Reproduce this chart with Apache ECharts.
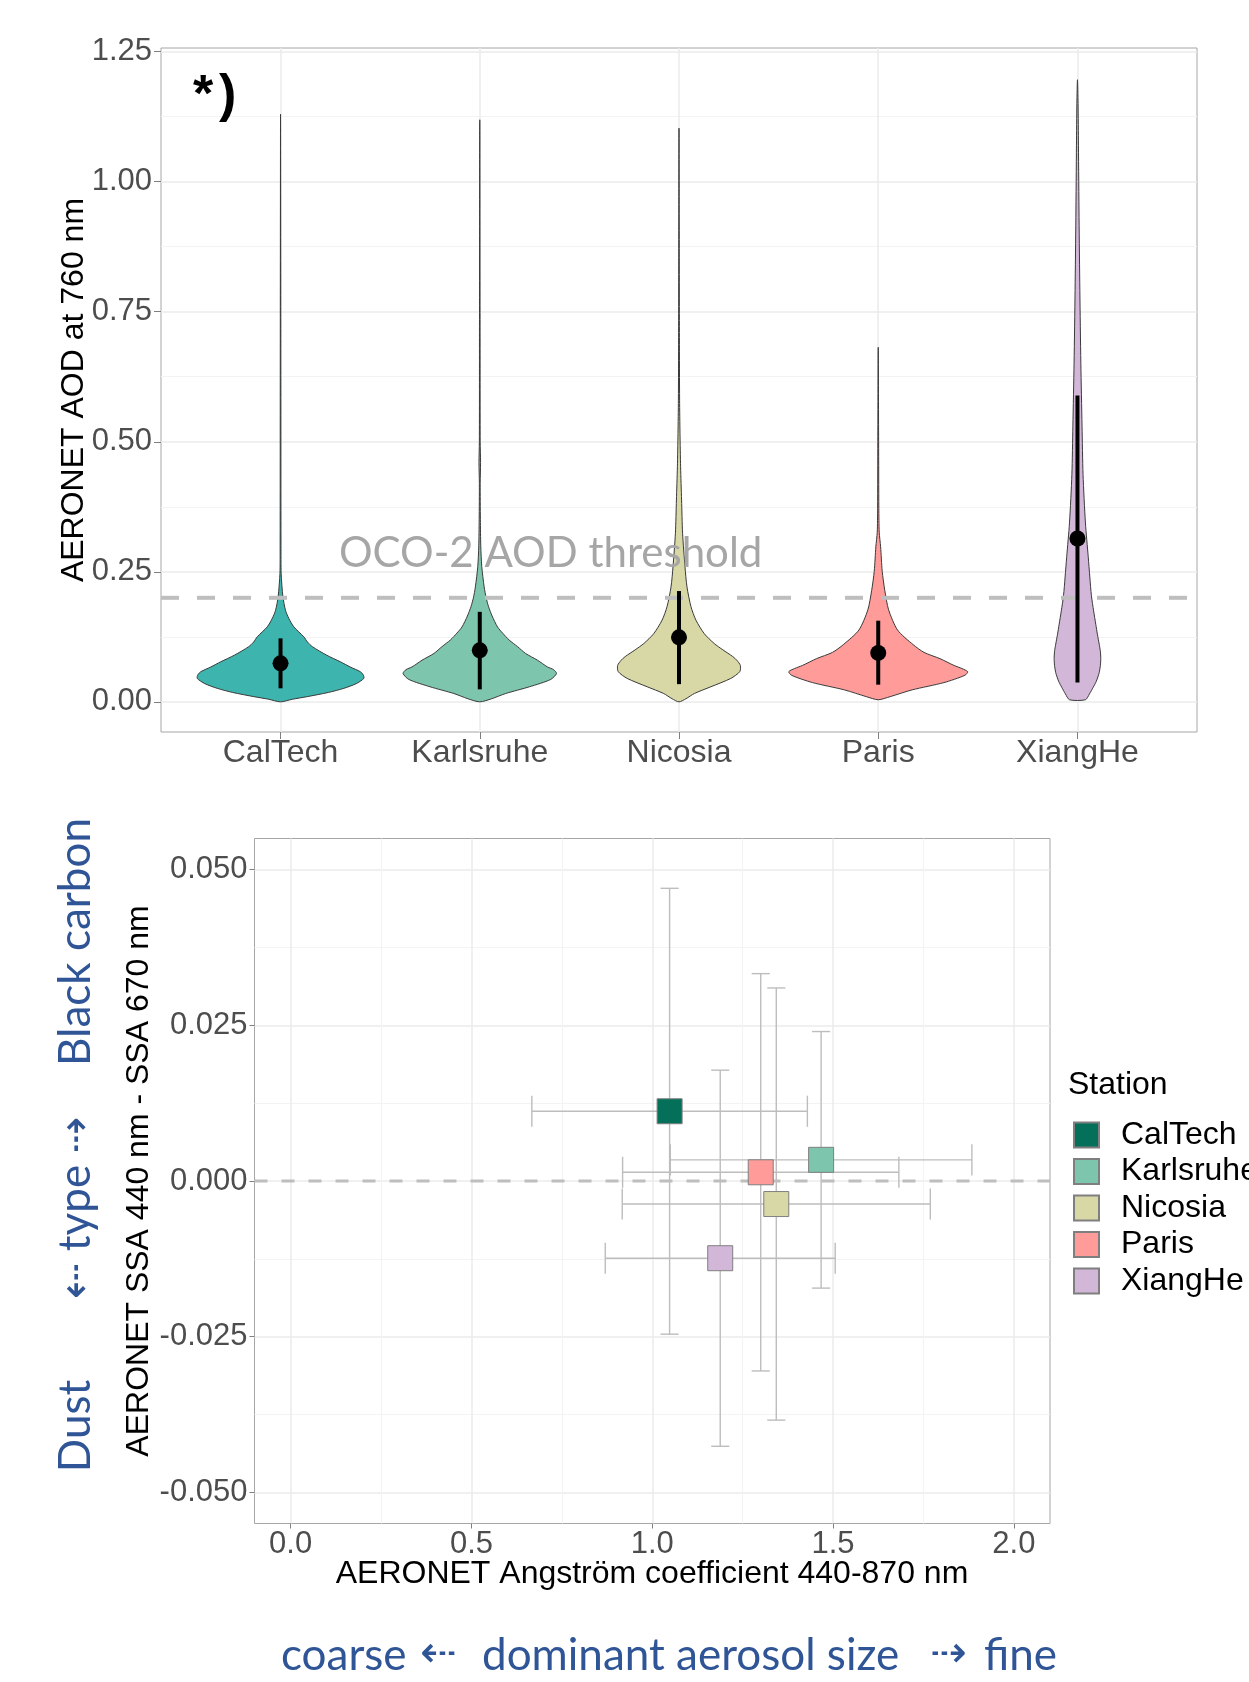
<!DOCTYPE html>
<html><head><meta charset="utf-8">
<script src="https://cdn.jsdelivr.net/npm/echarts@6/dist/echarts.min.js"></script>
<style>html,body{margin:0;padding:0;background:#fff}#c{width:1249px;height:1682px}</style>
</head><body><div id="c"></div>
<script>
// ---------------- data ----------------
const stations = ['CalTech', 'Karlsruhe', 'Nicosia', 'Paris', 'XiangHe'];
const violinColors = ['#3DB5AE', '#7DC6AD', '#D8D7A6', '#FF9B98', '#D3B7D9'];
const stationColors = ['#05705A', '#7DC6AD', '#D8D7A6', '#FF9B98', '#D3B7D9'];

// violin outlines: [AOD at 760 nm, half width (category units)]
const violinCalTech = [[0.000,0],[0.005,0.06],[0.010,0.134],[0.018,0.24],[0.026,0.318],[0.035,0.38],[0.045,0.418],[0.052,0.415],[0.058,0.40],[0.067,0.35],[0.077,0.30],[0.090,0.23],[0.106,0.16],[0.115,0.135],[0.125,0.117],[0.144,0.067],[0.160,0.042],[0.176,0.025],[0.202,0.012],[0.247,0.003],[0.30,0.002],[0.60,0.0015],[1.130,0]];
const violinKarlsruhe = [[0.000,0],[0.006,0.06],[0.016,0.13],[0.029,0.25],[0.043,0.356],[0.0545,0.385],[0.062,0.37],[0.067,0.34],[0.080,0.29],[0.093,0.23],[0.106,0.19],[0.119,0.147],[0.132,0.115],[0.144,0.089],[0.165,0.062],[0.183,0.044],[0.200,0.032],[0.221,0.022],[0.260,0.010],[0.300,0.005],[0.350,0.003],[0.420,0.002],[0.460,0.004],[0.500,0.002],[0.700,0.0015],[1.119,0]];
const violinNicosia = [[0.000,0],[0.006,0.035],[0.016,0.077],[0.029,0.16],[0.045,0.26],[0.058,0.305],[0.070,0.308],[0.080,0.29],[0.087,0.27],[0.100,0.22],[0.112,0.177],[0.131,0.127],[0.157,0.085],[0.183,0.060],[0.221,0.040],[0.260,0.030],[0.324,0.018],[0.388,0.013],[0.452,0.008],[0.516,0.005],[0.580,0.003],[0.700,0.002],[1.103,0]];
const violinParis = [[0.004,0],[0.010,0.06],[0.023,0.17],[0.037,0.33],[0.051,0.435],[0.058,0.449],[0.064,0.42],[0.070,0.38],[0.083,0.31],[0.095,0.23],[0.110,0.175],[0.138,0.097],[0.177,0.052],[0.214,0.033],[0.251,0.020],[0.298,0.012],[0.326,0.005],[0.372,0.003],[0.500,0.002],[0.6815,0]];
const violinXiangHe = [[0.004,0.040],[0.015,0.06],[0.028,0.079],[0.040,0.095],[0.056,0.109],[0.070,0.115],[0.083,0.117],[0.097,0.115],[0.111,0.109],[0.130,0.100],[0.149,0.092],[0.175,0.081],[0.204,0.070],[0.240,0.062],[0.279,0.054],[0.344,0.040],[0.437,0.028],[0.530,0.023],[0.651,0.017],[0.791,0.012],[0.931,0.008],[1.070,0.005],[1.150,0.003],[1.196,0]];
const violins = [violinCalTech, violinKarlsruhe, violinNicosia, violinParis, violinXiangHe];

// point ranges on violins
const aodMid = [0.074, 0.099, 0.124, 0.094, 0.314];
const aodLow = [0.026, 0.024, 0.034, 0.033, 0.037];
const aodHigh = [0.122, 0.173, 0.213, 0.156, 0.589];
const aodThreshold = 0.2;
const aodTicks = [0, 0.25, 0.5, 0.75, 1, 1.25];
const aodMinorTicks = [0.125, 0.375, 0.625, 0.875, 1.125];
const stationTicks = [1, 2, 3, 4, 5];

// scatter with error bars
const angMean = [1.048, 1.467, 1.343, 1.300, 1.188];
const angSd = [0.381, 0.417, 0.426, 0.382, 0.318];
const ssaMean = [0.0112, 0.0034, -0.0037, 0.0014, -0.0124];
const ssaSd = [0.0358, 0.0206, 0.0347, 0.0319, 0.0302];
const angTicks = [0, 0.5, 1, 1.5, 2];
const angMinorTicks = [0.25, 0.75, 1.25, 1.75];
const ssaTicks = [-0.05, -0.025, 0, 0.025, 0.05];
const ssaMinorTicks = [-0.0375, -0.0125, 0.0125, 0.0375];

// axis limits
const topX = [0.4, 5.6], topY = [-0.058, 1.257];
const botX = [-0.1, 2.1], botY = [-0.055, 0.055];

// ---------------- chart ----------------
const FONT = 'Liberation Sans';
const BLUE = '#2F5597';
const chart = echarts.init(document.getElementById('c'), null, {renderer: 'canvas'});

const tickColor = '#7F7F7F';
function mainAxis(grid, lim, ticks, fmt, margin, tickLen, fontSize) {
  return {
    type: 'value', gridIndex: grid, min: lim[0], max: lim[1],
    axisLine: {show: false, onZero: false},
    axisTick: {show: true, customValues: ticks, length: tickLen, lineStyle: {color: tickColor, width: 1}},
    axisLabel: {customValues: ticks, formatter: fmt, fontSize: fontSize, color: '#4D4D4D', fontFamily: FONT, margin: margin},
    splitLine: {show: true, lineStyle: {color: '#EBEBEB', width: 1.5}}
  };
}
function minorAxis(grid, lim, ticks) {
  return {
    type: 'value', gridIndex: grid, min: lim[0], max: lim[1],
    axisLine: {show: false, onZero: false}, axisTick: {show: false, customValues: ticks},
    axisLabel: {show: false, customValues: ticks},
    splitLine: {show: true, lineStyle: {color: '#F3F3F3', width: 1}}
  };
}

const option = {
  backgroundColor: '#ffffff',
  animation: false,
  grid: [
    {left: 161, top: 48, width: 1036, height: 684, show: true, borderColor: '#A6A6A6', borderWidth: 1, backgroundColor: 'transparent', outerBoundsMode: 'none'},
    {left: 254.5, top: 838.5, width: 795.5, height: 685, show: true, borderColor: '#A6A6A6', borderWidth: 1, backgroundColor: 'transparent', outerBoundsMode: 'none'}
  ],
  xAxis: [
    mainAxis(0, topX, stationTicks, v => stations[Math.round(v) - 1], 5, 7, 32),
    mainAxis(1, botX, angTicks, v => v.toFixed(1), 5, 5, 31),
    minorAxis(1, botX, angMinorTicks)
  ],
  yAxis: [
    mainAxis(0, topY, aodTicks, v => v.toFixed(2), 9, 7, 31),
    minorAxis(0, topY, aodMinorTicks),
    mainAxis(1, botY, ssaTicks, v => v.toFixed(3), 7, 5, 31),
    minorAxis(1, botY, ssaMinorTicks)
  ],
  legend: {
    data: stations, orient: 'vertical', left: 1073, top: 1119, padding: 0,
    itemWidth: 25, itemHeight: 25, itemGap: 4.5, icon: 'rect', selectedMode: false,
    textStyle: {fontSize: 32, color: '#000', fontFamily: FONT, padding: [0, 0, 0, 17], lineHeight: 25, height: 25}
  },
  series: [
    {
      type: 'custom', name: 'violin', xAxisIndex: 0, yAxisIndex: 0, z: 2,
      data: stations.map((s, i) => [i + 1, 0]),
      renderItem: function (params, api) {
        const i = params.dataIndex;
        const prof = violins[i];
        const cx = api.value(0);
        const pts = [];
        for (let k = 0; k < prof.length; k++) pts.push(api.coord([cx - prof[k][1], prof[k][0]]));
        for (let k = prof.length - 1; k >= 0; k--) {
          if (prof[k][1] === 0) continue;
          pts.push(api.coord([cx + prof[k][1], prof[k][0]]));
        }
        return {type: 'polygon', shape: {points: pts, smooth: 0.25},
          style: {fill: violinColors[i], stroke: '#3A3A3A', lineWidth: 1}};
      }
    },
    {
      type: 'line', name: 'threshold', xAxisIndex: 0, yAxisIndex: 0, z: 3,
      data: [[topX[0], aodThreshold], [topX[1], aodThreshold]],
      symbol: 'none', silent: true,
      lineStyle: {color: '#BEBEBE', width: 4, type: [18, 18]}
    },
    {
      type: 'custom', name: 'pointrange', xAxisIndex: 0, yAxisIndex: 0, z: 4,
      data: stations.map((s, i) => [i + 1, aodMid[i], aodLow[i], aodHigh[i]]),
      renderItem: function (params, api) {
        const x = api.value(0);
        const p = api.coord([x, api.value(1)]);
        const lo = api.coord([x, api.value(2)]);
        const hi = api.coord([x, api.value(3)]);
        return {type: 'group', children: [
          {type: 'line', shape: {x1: lo[0], y1: lo[1], x2: hi[0], y2: hi[1]}, style: {stroke: '#000', lineWidth: 4}},
          {type: 'circle', shape: {cx: p[0], cy: p[1], r: 8}, style: {fill: '#000'}}
        ]};
      }
    },
    {
      type: 'line', name: 'zero', xAxisIndex: 1, yAxisIndex: 2, z: 3,
      data: [[botX[0], 0], [botX[1], 0]],
      symbol: 'none', silent: true,
      lineStyle: {color: '#BEBEBE', width: 3, type: [13, 14]}
    },
    {
      type: 'custom', name: 'errorbars', xAxisIndex: 1, yAxisIndex: 2, z: 2,
      data: stations.map((s, i) => [angMean[i], ssaMean[i], angSd[i], ssaSd[i]]),
      renderItem: function (params, api) {
        const x = api.value(0), y = api.value(1), sx = api.value(2), sy = api.value(3);
        const capW = 0.025, capH = 0.0025;
        const seg = (a, b) => {
          const p1 = api.coord(a), p2 = api.coord(b);
          return {type: 'line', shape: {x1: p1[0], y1: p1[1], x2: p2[0], y2: p2[1]}, style: {stroke: '#BDBDBD', lineWidth: 1.4}};
        };
        return {type: 'group', children: [
          seg([x - sx, y], [x + sx, y]),
          seg([x - sx, y - capH], [x - sx, y + capH]),
          seg([x + sx, y - capH], [x + sx, y + capH]),
          seg([x, y - sy], [x, y + sy]),
          seg([x - capW, y - sy], [x + capW, y - sy]),
          seg([x - capW, y + sy], [x + capW, y + sy])
        ]};
      }
    }
  ].concat(stations.map((s, i) => ({
    type: 'scatter', name: s, xAxisIndex: 1, yAxisIndex: 2, z: 5,
    data: [[angMean[i], ssaMean[i]]],
    symbol: 'rect', symbolSize: 25,
    itemStyle: {color: stationColors[i], borderColor: '#7F7F7F', borderWidth: 1, opacity: 1}
  }))),
  graphic: [
    {type: 'text', x: 74, y: 390, rotation: Math.PI / 2, z: 10,
      style: {text: 'AERONET AOD at 760 nm', font: '32px "Liberation Sans"', fill: '#000', textAlign: 'center', textVerticalAlign: 'middle'}},
    {type: 'text', x: 193, y: 97, z: 10,
      style: {text: '*', font: 'bold 52px "Liberation Sans"', fill: '#000', textAlign: 'left', textVerticalAlign: 'middle'}},
    {type: 'text', x: 219, y: 97, z: 10,
      style: {text: ')', font: 'bold 52px "Liberation Sans"', fill: '#000', textAlign: 'left', textVerticalAlign: 'middle'}},
    {type: 'text', x: 339, y: 553, z: 10,
      style: {text: 'OCO-2 AOD threshold', font: '42px Lato', fill: '#A6A6A6', textAlign: 'left', textVerticalAlign: 'middle'}},
    {type: 'text', x: 139, y: 1181, rotation: Math.PI / 2, z: 10,
      style: {text: 'AERONET SSA 440 nm - SSA 670 nm', font: '32px "Liberation Sans"', fill: '#000', textAlign: 'center', textVerticalAlign: 'middle'}},
    {type: 'text', x: 652, y: 1574, z: 10,
      style: {text: 'AERONET Angström coefficient 440-870 nm', font: '32px "Liberation Sans"', fill: '#000', textAlign: 'center', textVerticalAlign: 'middle'}},
    {type: 'text', x: 1068, y: 1085, z: 10,
      style: {text: 'Station', font: '32px "Liberation Sans"', fill: '#000', textAlign: 'left', textVerticalAlign: 'middle'}},
    // blue annotations (left side, rotated)
    {type: 'text', x: 76, y: 942, rotation: Math.PI / 2, z: 10,
      style: {text: 'Black carbon', font: '44px Lato, "DejaVu Sans"', fill: BLUE, textAlign: 'center', textVerticalAlign: 'middle'}},
    {type: 'text', x: 76, y: 1208, rotation: Math.PI / 2, z: 10,
      style: {text: '\u21E0 type \u21E2', font: '44px Lato, "DejaVu Sans"', fill: BLUE, textAlign: 'center', textVerticalAlign: 'middle'}},
    {type: 'text', x: 76, y: 1426, rotation: Math.PI / 2, z: 10,
      style: {text: 'Dust', font: '44px Lato, "DejaVu Sans"', fill: BLUE, textAlign: 'center', textVerticalAlign: 'middle'}},
    // blue annotations (bottom)
    {type: 'text', x: 281, y: 1656, z: 10,
      style: {text: 'coarse', font: '44px Lato', fill: BLUE, textAlign: 'left', textVerticalAlign: 'middle'}},
    {type: 'text', x: 420, y: 1656, z: 10,
      style: {text: '\u21E0', font: '44px "DejaVu Sans"', fill: BLUE, textAlign: 'left', textVerticalAlign: 'middle'}},
    {type: 'text', x: 482, y: 1656, z: 10,
      style: {text: 'dominant aerosol size', font: '44px Lato', fill: BLUE, textAlign: 'left', textVerticalAlign: 'middle'}},
    {type: 'text', x: 930, y: 1656, z: 10,
      style: {text: '\u21E2', font: '44px "DejaVu Sans"', fill: BLUE, textAlign: 'left', textVerticalAlign: 'middle'}},
    {type: 'text', x: 984, y: 1656, z: 10,
      style: {text: 'fine', font: '44px Lato', fill: BLUE, textAlign: 'left', textVerticalAlign: 'middle'}}
  ]
};
chart.setOption(option);
</script>
</body></html>
